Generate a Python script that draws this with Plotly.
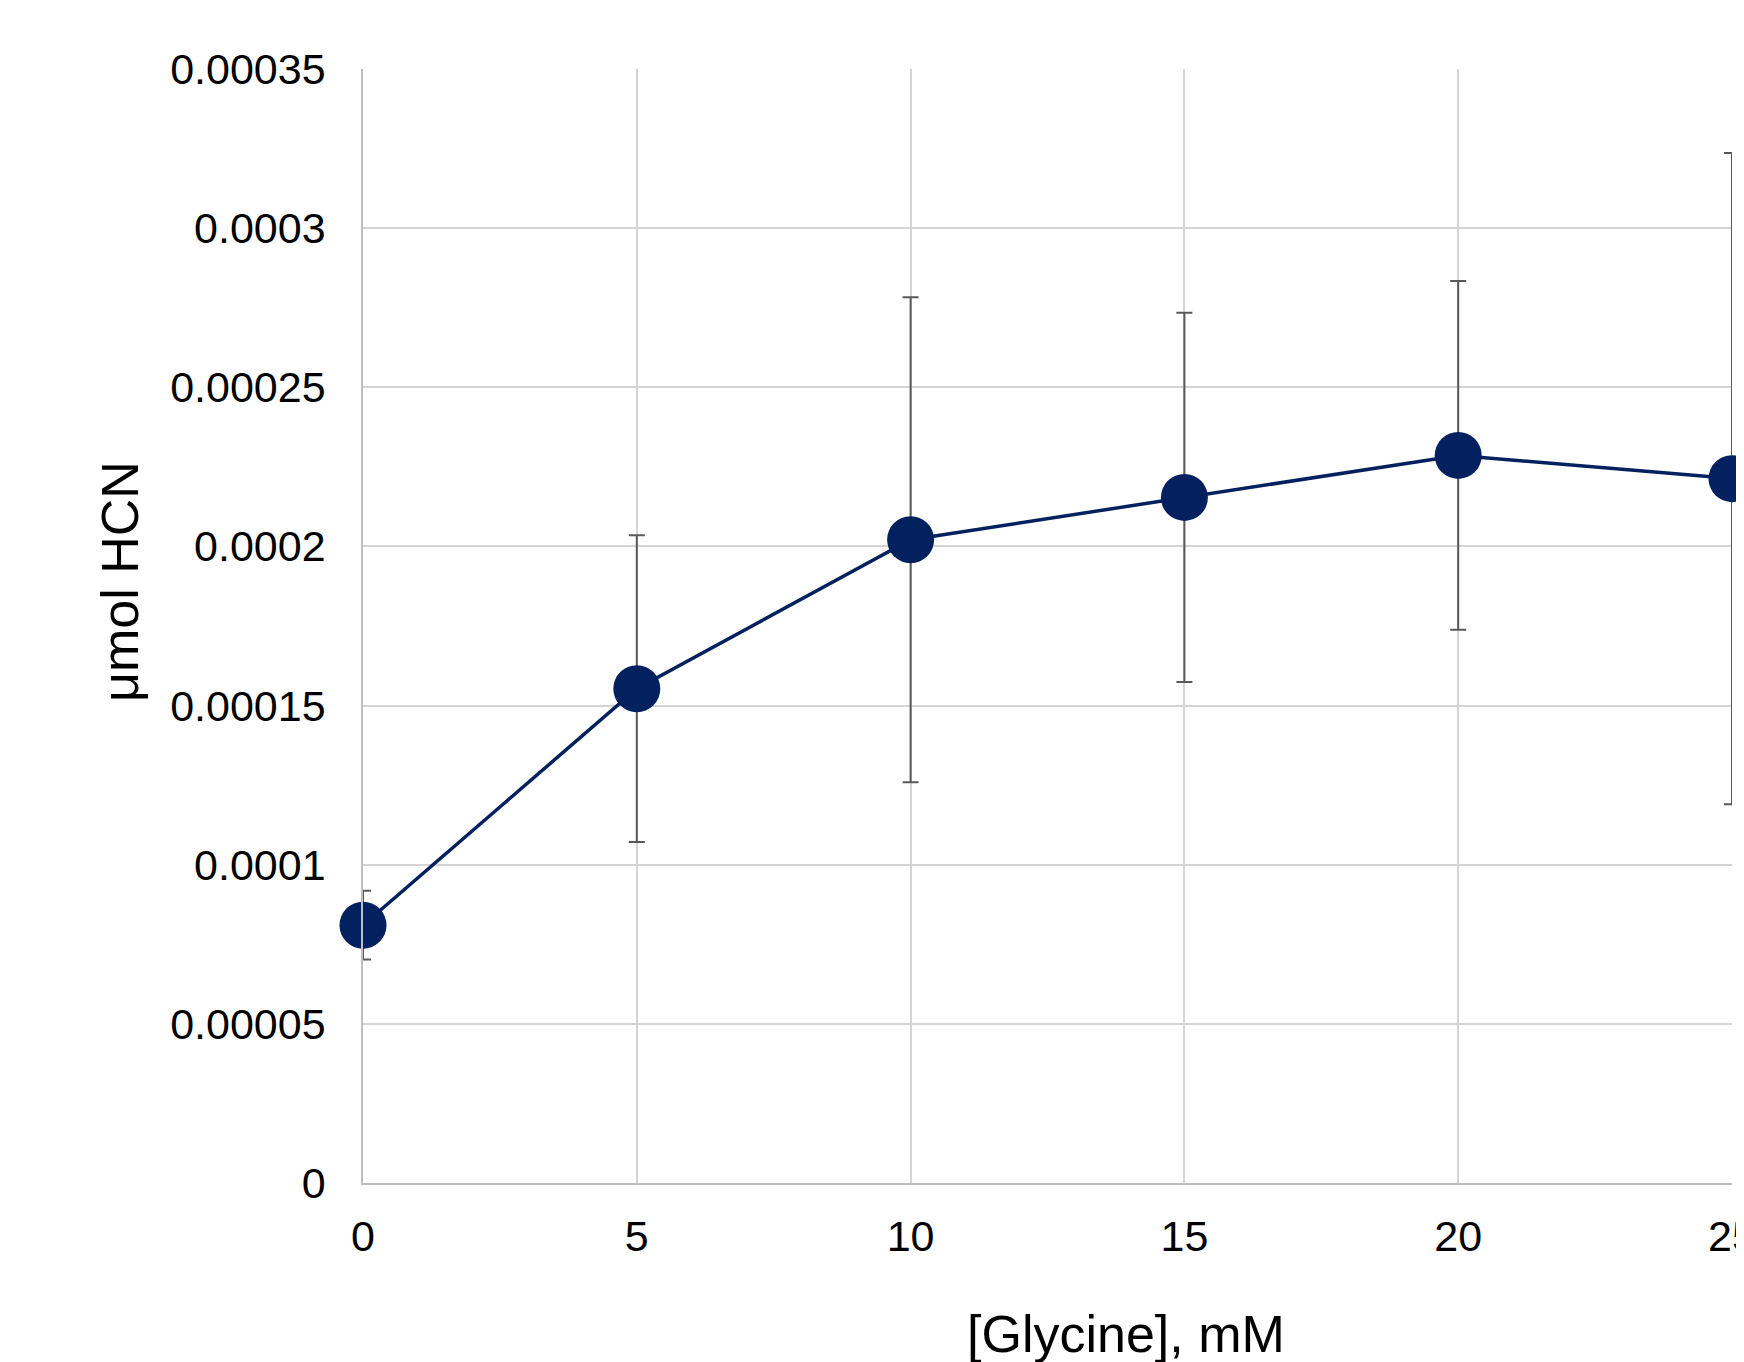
import plotly.graph_objects as go

glycine_mM = [0, 5, 10, 15, 20, 25]
hcn_umol = [8.10e-5, 1.553e-4, 2.021e-4, 2.154e-4, 2.286e-4, 2.213e-4]
hcn_err = [1.08e-5, 4.82e-5, 7.62e-5, 5.80e-5, 5.48e-5, 1.023e-4]

y_tickvals = [0, 0.00005, 0.0001, 0.00015, 0.0002, 0.00025, 0.0003, 0.00035]
y_ticktext = ["0", "0.00005", "0.0001", "0.00015", "0.0002", "0.00025", "0.0003", "0.00035"]
x_tickvals = [0, 5, 10, 15, 20, 25]

# page has an 8px body margin, so the figure is sized/offset accordingly
W, H = 1736, 1354
ml, mr, mt, mb = 355, 12, 61, 179

FONT = "Liberation Sans, Arial, sans-serif"

fig = go.Figure()
fig.add_trace(go.Scatter(
    x=glycine_mM, y=hcn_umol, mode="lines+markers",
    line=dict(color="#03215E", width=3.5),
    marker=dict(size=47, color="#03215E"),
    error_y=dict(type="data", array=hcn_err, visible=True,
                 color="#595959", thickness=2, width=8),
    cliponaxis=False, showlegend=False,
))

fig.update_layout(
    width=W, height=H,
    margin=dict(l=ml, r=mr, t=mt, b=mb, autoexpand=False),
    paper_bgcolor="white", plot_bgcolor="white",
    font=dict(family=FONT, size=42, color="black"),
    xaxis=dict(range=[0, 25], tickvals=x_tickvals, showgrid=True,
               gridcolor="#d4d4d4", gridwidth=1.5, zeroline=False,
               showline=True, linecolor="#bfbfbf", linewidth=1.6,
               ticks="", ticklabelstandoff=15, automargin=False,
               ticklabeloverflow="allow",
               tickfont=dict(family=FONT, size=43, color="black")),
    yaxis=dict(range=[0, 0.00035], tickvals=y_tickvals, ticktext=y_ticktext,
               showgrid=True, gridcolor="#d4d4d4", gridwidth=1.5,
               zeroline=False, showline=True, linecolor="#bfbfbf",
               linewidth=1.6, ticks="", ticklabelstandoff=27, automargin=False,
               tickfont=dict(family=FONT, size=43, color="black")),
    annotations=[
        dict(text="[Glycine], mM", xref="paper", yref="paper",
             x=(1118 - ml) / (W - ml - mr), y=-(1326 - (H - mb)) / (H - mt - mb),
             xanchor="center", yanchor="middle", showarrow=False,
             font=dict(family=FONT, size=52, color="black")),
        dict(text="μmol HCN", xref="paper", yref="paper", textangle=-90,
             x=-(ml - 112) / (W - ml - mr), y=1 - (574 - mt) / (H - mt - mb),
             xanchor="center", yanchor="middle", showarrow=False,
             font=dict(family=FONT, size=52, color="black")),
    ],
)

fig.write_html("out.html")
